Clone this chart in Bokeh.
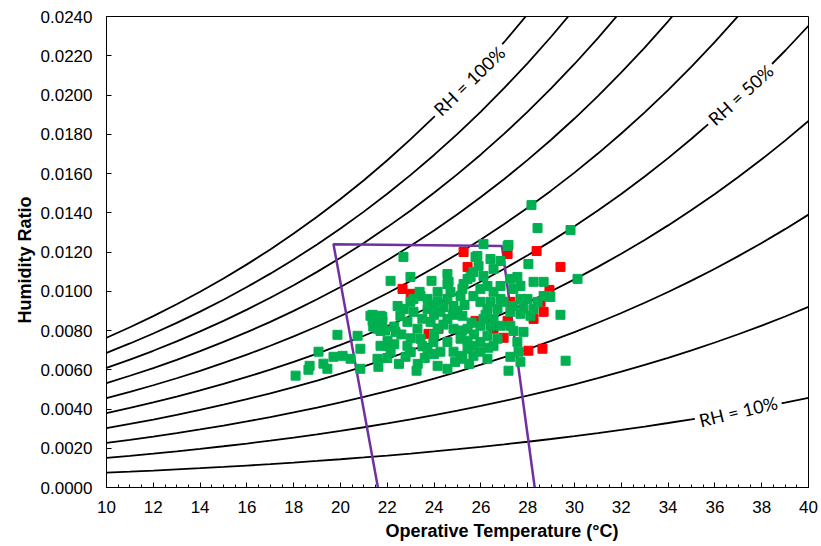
from bokeh.plotting import figure
from bokeh.models import Range1d, FixedTicker, PrintfTickFormatter, Label, Title
from bokeh.embed import file_html
from bokeh.resources import INLINE
import numpy as np

# Saturation vapour pressure of water (kPa) at 10..40 degC (steam tables)
temps = list(range(10, 41))
p_sat = [1.2282, 1.3130, 1.4028, 1.4981, 1.5990, 1.7058, 1.8188, 1.9384, 2.0647,
         2.1983, 2.3393, 2.4882, 2.6453, 2.8111, 2.9858, 3.1699, 3.3639, 3.5681,
         3.7831, 4.0092, 4.2470, 4.4969, 4.7596, 5.0354, 5.3251, 5.6290, 5.9479,
         6.2823, 6.6328, 7.0002, 7.3849]
p_atm = 101.325
rh_levels = [0.1, 0.2, 0.3, 0.4, 0.5, 0.6, 0.7, 0.8, 0.9, 1.0]

# Comfort zone polygon (operative temperature, humidity ratio)
zone_t = [21.6, 19.7, 26.9, 28.3]
zone_w = [0.0, 0.0124, 0.0123, 0.0]

# Measured points (operative temperature degC, humidity ratio x1000)
green_t = [18.08, 18.63, 18.68, 19.06, 19.27, 19.44, 19.70, 19.87, 20.09, 20.43, 20.73, 20.85,
           20.85, 21.28, 21.37, 21.71, 21.79, 21.58, 21.71, 21.58, 21.62, 22.01, 22.14, 22.35,
           22.86, 22.78, 23.25, 22.14, 22.69, 22.99, 23.89, 22.99, 23.42, 23.12, 23.72, 24.15,
           24.57, 24.62, 24.57, 24.27, 22.86, 23.29, 23.85, 24.15, 24.57, 24.83, 23.42, 23.97,
           24.57, 25.13, 23.72, 24.27, 24.83, 25.43, 24.15, 24.57, 25.13, 25.68, 25.43, 25.21,
           25.21, 25.43, 25.68, 25.90, 25.85, 26.11, 26.41, 26.84, 27.14, 28.03, 30.13, 28.25,
           28.68, 28.85, 28.97, 28.42, 27.69, 27.39, 27.26, 27.56, 26.54, 26.11, 26.28, 25.98,
           26.54, 26.84, 25.68, 25.98, 26.41, 26.84, 26.28, 26.71, 27.39, 27.69, 27.99, 27.82,
           28.25, 28.12, 27.69, 27.26, 26.54, 26.11, 25.98, 26.41, 26.84, 27.26, 27.39, 27.82,
           26.71, 26.28, 25.98, 26.54, 25.98, 26.28, 27.26, 27.56, 27.61, 27.69, 27.18, 29.40,
           29.62, 25.43, 25.21, 25.64, 22.44, 22.56, 23.12, 23.72, 24.15, 25.13, 24.83, 24.70,
           28.16, 28.42, 29.83, 27.18, 26.32, 26.20, 26.97, 28.68, 23.38, 24.57, 25.77, 25.56,
           25.26, 22.30, 22.60, 23.00, 23.50, 24.00, 24.40, 24.80, 25.00, 24.00, 23.50, 22.70,
           23.90, 24.40, 25.30, 25.60, 25.70, 25.20, 23.00, 23.60, 24.00, 24.90, 25.50, 22.50,
           22.00, 22.30, 23.30, 21.90, 21.37, 21.70, 21.40, 21.71, 22.01, 21.79]
green_w = [5.70, 6.00, 6.20, 6.92, 6.31, 6.05, 6.66, 7.78, 6.71, 6.56, 7.73, 7.07,
           6.05, 8.75, 8.49, 8.75, 8.44, 8.09, 7.22, 6.56, 6.15, 7.48, 6.92, 7.93,
           7.22, 6.66, 5.95, 10.53, 11.75, 10.73, 10.53, 9.46, 9.76, 8.95, 9.10, 9.46,
           9.61, 10.48, 10.88, 8.95, 8.44, 8.09, 8.44, 8.09, 8.59, 8.09, 7.58, 7.42,
           7.42, 7.58, 7.07, 6.92, 6.92, 7.07, 6.20, 6.05, 6.56, 6.71, 8.09, 8.75,
           10.12, 10.63, 10.98, 11.29, 11.80, 12.41, 11.64, 11.54, 12.31, 11.39, 10.63, 10.48,
           10.48, 9.76, 9.71, 9.46, 10.27, 10.12, 10.63, 10.73, 11.14, 10.78, 10.27, 10.12,
           9.97, 10.27, 9.76, 9.46, 9.46, 9.61, 9.10, 9.10, 9.25, 9.61, 9.61, 9.10,
           9.10, 8.75, 8.85, 8.95, 8.59, 8.59, 8.24, 8.24, 8.24, 8.24, 7.98, 7.93,
           7.58, 7.73, 7.42, 7.22, 6.92, 6.56, 6.66, 7.42, 6.92, 6.41, 5.95, 8.80,
           6.46, 7.48, 6.71, 7.22, 9.25, 8.75, 9.61, 9.61, 9.97, 9.76, 9.25, 9.97,
           14.39, 13.22, 13.12, 12.36, 7.12, 8.80, 9.46, 9.76, 9.97, 10.37, 11.75, 10.73,
           10.37, 8.20, 7.80, 7.60, 7.20, 7.80, 8.30, 8.80, 9.00, 8.80, 8.60, 9.10,
           9.30, 9.20, 9.30, 8.40, 7.80, 8.00, 6.90, 6.60, 6.80, 6.40, 6.30, 6.30,
           6.60, 7.30, 6.30, 8.00, 8.80, 8.30, 8.20, 7.98, 7.22, 8.70]
red_t = [22.65, 25.26, 25.43, 27.14, 28.38, 29.40, 28.93, 27.26, 28.55, 28.68, 28.25, 27.14,
         25.77, 26.54, 26.97, 28.03, 28.63, 24.19, 23.76, 23.00, 21.58]
red_w = [10.12, 12.00, 11.24, 11.90, 12.05, 11.24, 10.07, 9.46, 9.46, 8.95, 8.59, 8.49,
         8.49, 8.09, 7.63, 6.97, 7.07, 8.09, 7.83, 9.87, 8.49]

FONT = "Liberation Sans"

p = figure(width=818, height=543, output_backend="svg", toolbar_location=None,
           x_range=Range1d(10, 40), y_range=Range1d(0, 0.024),
           min_border_left=106, min_border_right=10, min_border_top=16, min_border_bottom=55)
p.background_fill_color = "white"
p.border_fill_color = "white"
p.outline_line_color = "black"
p.outline_line_width = 1
p.xgrid.visible = False
p.ygrid.visible = False

# RH curves
ps = np.array(p_sat)
for rh in rh_levels:
    pw = rh * ps
    w = 0.622 * pw / (p_atm - pw)
    p.line(temps, w, line_color="black", line_width=1.8)

# comfort zone
p.line(zone_t, zone_w, line_color="#7030A0", line_width=2.5)

# points
p.scatter(red_t, np.array(red_w) / 1000.0, marker="square", size=9,
          fill_color="#FF0000", line_color="#FF0000")
p.scatter(green_t, np.array(green_w) / 1000.0, marker="square", size=9,
          fill_color="#00B050", line_color="#00B050")

# RH labels on their curves
def rh_point(rh, t):
    i = temps.index(int(t))
    frac = t - int(t)
    pv = p_sat[i] + (p_sat[i + 1] - p_sat[i]) * frac
    pw = rh * pv
    return 0.622 * pw / (p_atm - pw)

for text, rh, t, ang in [("RH = 100%", 1.0, 25.5, 44), ("RH = 50%", 0.5, 37.1, 42), ("RH = 10%", 0.1, 37.0, 13.5)]:
    p.add_layout(Label(x=t, y=rh_point(rh, t), text=text, angle=np.deg2rad(ang),
                       text_align="center", text_baseline="middle",
                       text_font="Lato", text_font_size="18px", text_color="black",
                       background_fill_color="white", padding=4))

# axes
p.xaxis.ticker = FixedTicker(ticks=list(range(10, 41, 2)),
                             minor_ticks=[10 + 0.5 * i for i in range(61)])
p.yaxis.ticker = FixedTicker(ticks=[0.002 * i for i in range(13)])
p.yaxis.formatter = PrintfTickFormatter(format="%.4f")
for ax in (p.xaxis[0], p.yaxis[0]):
    ax.axis_line_color = "black"
    ax.major_tick_line_color = "black"
    ax.major_tick_out = 0
    ax.major_tick_in = 5
    ax.minor_tick_out = 0
    ax.minor_tick_in = 3
    ax.major_label_text_font = FONT
    ax.major_label_text_font_size = "17px"
    ax.major_label_text_color = "black"
p.yaxis.minor_tick_line_color = None
p.xaxis.major_label_standoff = 13
p.yaxis.major_label_standoff = 14

# axis titles (offset as in the original layout)
xt = Title(text="Operative Temperature (°C)", align="left", offset=279, standoff=6,
           text_font=FONT, text_font_size="18px", text_font_style="bold", text_color="black")
yt = Title(text="Humidity Ratio", align="left", offset=164, standoff=6,
           text_font=FONT, text_font_size="18px", text_font_style="bold", text_color="black")
p.add_layout(xt, "below")
p.add_layout(yt, "left")

open("out.html", "w").write(file_html(p, INLINE))
